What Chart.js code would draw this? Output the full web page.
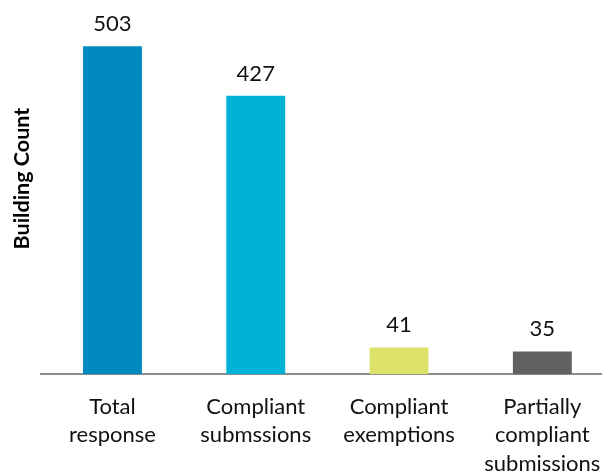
<!DOCTYPE html>
<html>
<head>
<meta charset="utf-8">
<script src="https://cdn.jsdelivr.net/npm/chart.js@4.4.1/dist/chart.umd.min.js"></script>
<style>
    html, body { margin: 0; padding: 0; background: #fff; overflow: hidden; width: 602px; height: 473px; }
    #wrap { position: absolute; left: 0; top: -17px; width: 614px; height: 505px; }
</style>
</head>
<body>
<div id="wrap"><canvas id="chart"></canvas></div>
<script>
// Données du graphique
const categories = [
    ["Total", "response"],
    ["Compliant", "submssions"],
    ["Compliant", "exemptions"],
    ["Partially", "compliant", "submissions"]
];
const buildingCounts = [503, 427, 41, 35];
const barColors = ["#018AC1", "#00B2D6", "#DCE26A", "#606163"];
const yAxisTitle = "Building Count";

// Valeurs au-dessus des barres
const valueLabels = {
    id: 'valueLabels',
    afterDatasetsDraw(chart) {
        const ctx = chart.ctx;
        const meta = chart.getDatasetMeta(0);
        ctx.save();
        ctx.font = '22px Lato';
        ctx.fillStyle = '#111';
        ctx.textAlign = 'center';
        ctx.textBaseline = 'alphabetic';
        meta.data.forEach((bar, i) => {
            ctx.fillText(String(buildingCounts[i]), bar.x, bar.y - 15);
        });
        ctx.restore();
    }
};

const ctx = document.getElementById('chart').getContext('2d');
new Chart(ctx, {
    type: 'bar',
    data: {
        labels: categories,
        datasets: [{
            data: buildingCounts,
            backgroundColor: barColors,
            borderWidth: 0,
            barPercentage: 0.411,
            categoryPercentage: 1.0
        }]
    },
    options: {
        responsive: true,
        maintainAspectRatio: false,
        animation: false,
        layout: { padding: { left: 5, right: 0, top: 0, bottom: 0 } },
        plugins: {
            legend: { display: false },
            tooltip: { enabled: false }
        },
        scales: {
            x: {
                grid: { display: false },
                border: { display: true, color: '#8C8C8C', width: 2 },
                ticks: {
                    color: '#111',
                    font: { family: 'Lato', size: 22, lineHeight: 1.3 },
                    padding: 10,
                    maxRotation: 0,
                    autoSkip: false
                },
                // pas de marge automatique liée aux libellés
                afterFit: (scale) => { scale.paddingLeft = 0; scale.paddingRight = 0; }
            },
            y: {
                min: 0,
                max: 600,
                grid: { display: false, drawTicks: false },
                border: { display: false },
                ticks: { display: false },
                title: {
                    display: true,
                    text: yAxisTitle,
                    color: '#000',
                    font: { family: 'Lato', size: 21.5, weight: 'bold', lineHeight: 1.2 },
                    padding: { top: 4, bottom: 6 }
                }
            }
        }
    },
    plugins: [valueLabels]
});
</script>
</body>
</html>
